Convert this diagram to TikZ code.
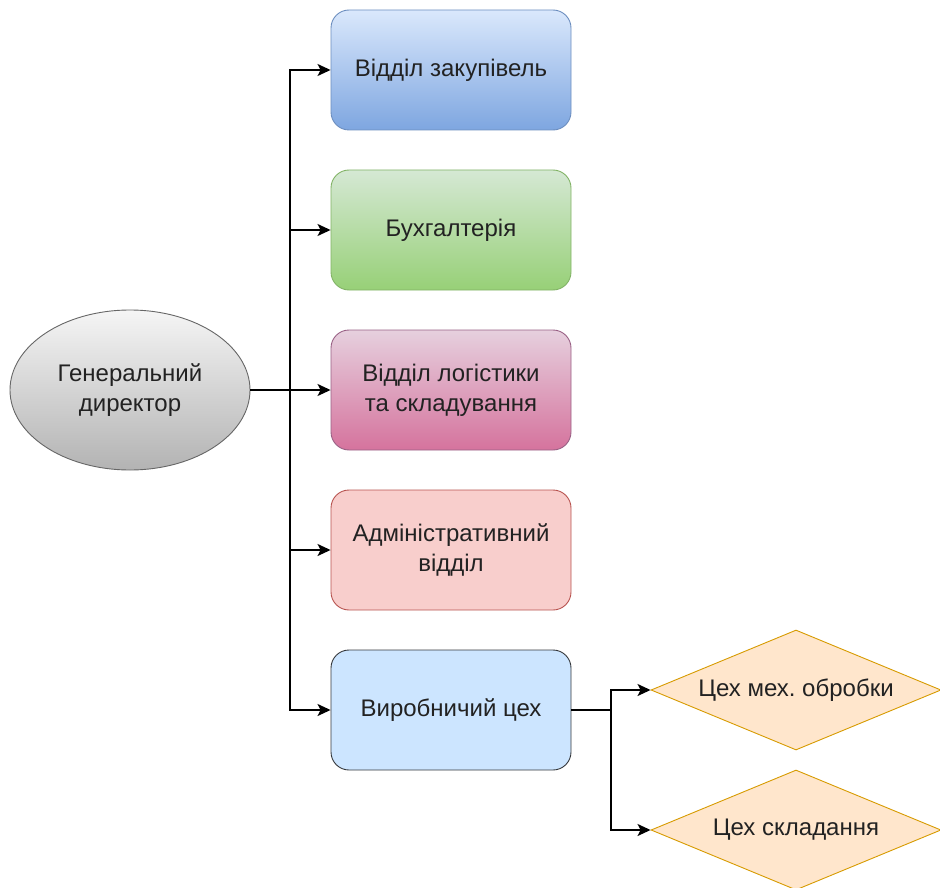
\documentclass[tikz,border=0pt]{standalone}
\usepackage{fontspec}
\setmainfont{Liberation Sans}
\usetikzlibrary{shapes.geometric,arrows.meta}
\definecolor{b1t}{HTML}{DAE8FC}\definecolor{b1b}{HTML}{7EA6E0}\definecolor{b1d}{HTML}{6C8EBF}
\definecolor{b2t}{HTML}{D5E8D4}\definecolor{b2b}{HTML}{97D077}\definecolor{b2d}{HTML}{82B366}
\definecolor{b3t}{HTML}{E6D0DE}\definecolor{b3b}{HTML}{D5739D}\definecolor{b3d}{HTML}{996185}
\definecolor{b4f}{HTML}{F8CECC}\definecolor{b4d}{HTML}{B85450}
\definecolor{b5f}{HTML}{CCE5FF}\definecolor{b5d}{HTML}{36393D}
\definecolor{elt}{HTML}{F5F5F5}\definecolor{elb}{HTML}{B3B3B3}\definecolor{eld}{HTML}{666666}
\definecolor{dmf}{HTML}{FFE6CC}\definecolor{dmd}{HTML}{D79B00}
\definecolor{txt}{HTML}{222222}
\frenchspacing
\begin{document}
\begin{tikzpicture}[x=1pt,y=-1pt,
  every node/.style={font=\fontsize{24}{30}\selectfont, text=txt, align=center},
  box/.style={rectangle, rounded corners=18pt, minimum width=240pt, minimum height=120pt, inner sep=0pt, line width=0.9pt},
  oval/.style={ellipse, minimum width=240pt, minimum height=160pt, inner sep=0pt, line width=0.9pt, draw=eld, top color=elt, bottom color=elb},
  dia/.style={diamond, shape aspect=2.4, minimum width=290pt, minimum height=120pt, inner sep=0pt, line width=0.9pt, draw=dmd, fill=dmf},
  conn/.style={line width=1.5pt, black},
  arr/.style={conn, -{Stealth[length=13pt,width=12pt,inset=3pt]}}
]
\useasboundingbox (0,0) rectangle (940,888);
\node[oval] (gd) at (130,390) {Генеральний\\директор};
\node[box, draw=b1d, top color=b1t, bottom color=b1b] (b1) at (451,70) {Відділ закупівель};
\node[box, draw=b2d, top color=b2t, bottom color=b2b] (b2) at (451,230) {Бухгалтерія};
\node[box, draw=b3d, top color=b3t, bottom color=b3b] (b3) at (451,390) {Відділ логістики\\та складування};
\node[box, draw=b4d, fill=b4f] (b4) at (451,550) {Адміністративний\\відділ};
\node[box, draw=b5d, fill=b5f] (b5) at (451,710) {Виробничий цех};
\node[dia] (d1) at (796,690) {Цех мех. обробки};
\node[dia] (d2) at (796,830) {Цех складання};
\coordinate (j) at (290,390);
\coordinate (k) at (611,710);
\draw[arr] (gd.east) -- (b3.west);
\draw[arr] (j) |- (b1.west);
\draw[arr] (j) |- (b2.west);
\draw[arr] (j) |- (b4.west);
\draw[arr] (j) |- (b5.west);
\draw[conn] (b5.east) -- (k);
\draw[arr] (k) |- (d1.west);
\draw[arr] (k) |- (d2.west);
\end{tikzpicture}
\end{document}
